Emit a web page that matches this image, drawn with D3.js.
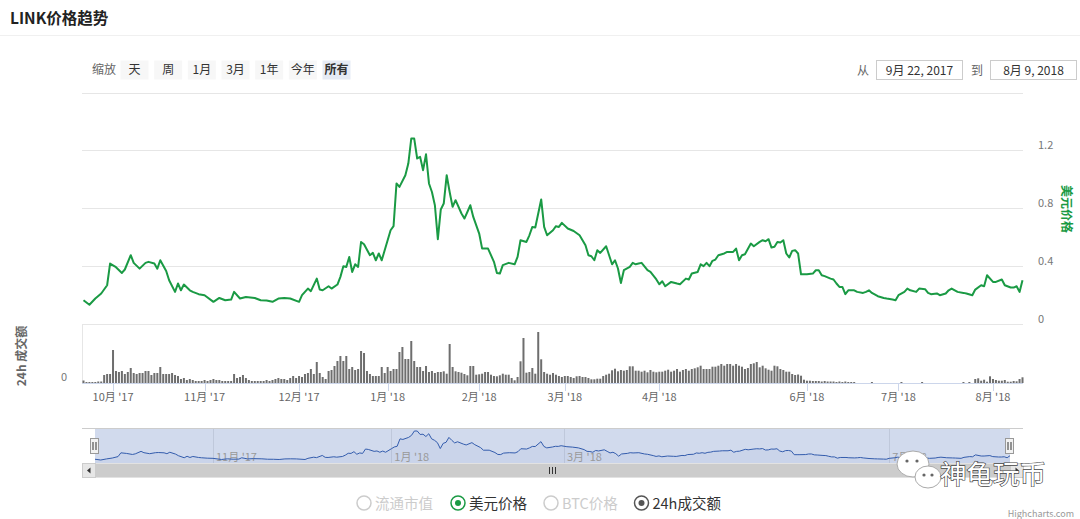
<!DOCTYPE html>
<html><head><meta charset="utf-8">
<script src="https://cdn.jsdelivr.net/npm/d3@7"></script>
<style>
html,body{margin:0;padding:0;background:#fff;}
svg{display:block;font-family:"Noto Sans CJK SC","Noto Sans",sans-serif;}
</style></head>
<body><svg id="c" width="1080" height="519"></svg>
<script>
// ---- data (ordinal day index from 9月 22, 2017 to 8月 9, 2018) ----
const priceDay = [0,2,4,6,8,9,11,13,14,16,17,19,21,22,24,25,26,28,29,31,32,33,34,36,37,39,41,44,46,48,50,51,53,55,58,60,62,64,66,68,70,73,74,76,77,79,80,81,83,84,86,87,88,89,90,91,92,93,94,95,97,98,99,100,101,103,104,105,106,107,109,110,111,112,113,114,115,116,117,118,119,120,121,122,123,124,125,126,128,129,131,132,134,135,137,139,140,141,142,144,146,147,148,150,151,152,153,155,156,157,159,160,161,162,164,166,168,170,171,172,173,174,175,177,178,179,180,181,182,183,185,186,187,188,189,191,192,194,195,196,197,199,201,202,204,205,206,208,209,210,211,212,213,214,215,217,218,220,221,222,223,224,226,227,229,230,231,232,233,234,235,236,237,238,239,240,241,242,243,244,245,247,248,249,250,251,253,254,255,256,257,258,259,261,262,264,265,266,267,269,271,272,274,275,276,278,279,280,282,283,285,286,287,289,290,292,293,294,296,298,299,301,302,304,305,306,308,309,311,312,314,315,316,317,318];
const priceUSD = [0.161,0.13,0.173,0.208,0.265,0.415,0.39,0.35,0.374,0.473,0.42,0.38,0.42,0.427,0.415,0.38,0.438,0.364,0.3,0.219,0.277,0.23,0.27,0.23,0.219,0.203,0.196,0.15,0.177,0.161,0.166,0.219,0.173,0.184,0.177,0.161,0.159,0.15,0.173,0.177,0.173,0.15,0.196,0.242,0.224,0.311,0.235,0.23,0.258,0.242,0.27,0.323,0.397,0.392,0.461,0.357,0.41,0.392,0.565,0.549,0.473,0.489,0.438,0.485,0.438,0.577,0.646,0.674,0.97,0.946,1.027,1.108,1.281,1.281,1.143,1.154,1.062,1.172,0.97,0.911,0.819,0.584,0.79,0.831,1.027,0.911,0.808,0.854,0.762,0.727,0.819,0.738,0.623,0.519,0.519,0.427,0.35,0.346,0.404,0.42,0.41,0.461,0.577,0.565,0.611,0.669,0.665,0.859,0.669,0.611,0.646,0.674,0.669,0.697,0.658,0.641,0.611,0.542,0.473,0.466,0.438,0.508,0.489,0.535,0.473,0.41,0.438,0.381,0.281,0.369,0.392,0.42,0.41,0.415,0.42,0.369,0.357,0.305,0.272,0.293,0.258,0.288,0.277,0.272,0.311,0.305,0.346,0.357,0.41,0.397,0.42,0.397,0.434,0.443,0.473,0.485,0.496,0.496,0.519,0.438,0.473,0.48,0.554,0.535,0.565,0.577,0.57,0.584,0.526,0.531,0.565,0.561,0.577,0.485,0.457,0.503,0.508,0.485,0.341,0.341,0.341,0.346,0.369,0.369,0.334,0.328,0.311,0.305,0.277,0.253,0.253,0.203,0.23,0.23,0.219,0.212,0.219,0.23,0.212,0.189,0.177,0.173,0.166,0.161,0.196,0.219,0.242,0.23,0.219,0.242,0.238,0.212,0.203,0.208,0.196,0.208,0.23,0.242,0.219,0.212,0.208,0.196,0.235,0.265,0.258,0.334,0.288,0.288,0.305,0.265,0.249,0.249,0.258,0.219,0.3];
const volume = [2.5,1,1,1,1,1.5,1.5,8,9,9,33,
12,11,12,9,11,15,10,9,10,10,12,12,8,10,10,16,9,9,9,10,8,7,4,5,3,
4,3,2,2,2,3,2,3,4,3,3,2,2,2,2,
9,5,6,8,5,
3,2,2,2,2,2,3,2,3,
4,5,4,4,3,5,7,5,7,6,
9,10,14,9,21,10,6,4,
12,13,17,22,27,22,27,14,16,13,14,32,30,12,9,7,7,7,16,10,16,12,14,
14,31,36,24,24,42,22,16,16,12,17,11,12,10,11,
11,11.7,9.3,39,16,11.7,11,10.3,9,7.7,17,17,8.3,8.7,9.3,11,11,8.3,7,6.7,7.7,9.3,8.3,8.3,5,2.7,6,21.7,45,10.3,11,15,9.3,51,23.7,11,9.3,8.3,10,8.3,7,6,7,7,6,5,6.7,7,6,6,5,3.7,3.7,4.3,4.3,7,8.3,9.3,12.7,14.3,11.7,
13,12.3,13,16.7,16.7,12.3,12.3,11.3,12.3,10.7,13,11.3,10.7,11.3,11.3,12.3,13.3,11.3,12.3,14,11.3,13,14,12.3,14,14.7,15.7,17.3,14,14,14,16.3,16.3,17.3,19,17.3,19,19,17.3,19,17.3,16.3,14,15,19,19.7,21,15.7,17.3,14.7,13.3,12.3,17.3,16.7,14,13,11.3,11.3,9,8,8.5,7.3,3.3,2.3,2.3,
2,2,2,1.5,2,1.5,1.5,1.5,1,1.5,1,1.5,1,1,1,
0,0,0,0,0,1,0,0,0,0,0,0,0,0,0,1,0,0,0,0,0,0,1,0,0,0,0,0,0,0,0,0,0,0,0,0,1,0,1,0,
4,4.7,2.3,3.3,1.3,6.7,4,3,2.3,2.3,3,1.3,1.3,2,1.7,4,5.7];
const tickDay = [10,41,73,103,134,163,195,245,276,308];
const tickLabels = ["10月 '17","11月 '17","12月 '17","1月 '18","2月 '18","3月 '18","4月 '18","6月 '18","7月 '18","8月 '18"];
const navTickDay = [41,103,163,276];
const navTickLabels = ["11月 '17","1月 '18","3月 '18","7月 '18"];
const priceTicks = [0,0.4,0.8,1.2];
const priceGrid = [0,0.4,0.8,1.2,1.6];
const zoomButtons = ["天","周","1月","3月","1年","今年","所有"];
const legendItems = [
  {name:"流通市值", on:false, color:"#ccc"},
  {name:"美元价格", on:true, color:"#1a9a44"},
  {name:"BTC价格", on:false, color:"#ccc"},
  {name:"24h成交额", on:true, color:"#555"}
];

// ---- drawing ----
const svg = d3.select("#c");
const GREEN = "#1a9a44";
const nDays = 319;
const x = d3.scaleLinear().domain([0, nDays-1]).range([83.5, 1022.5]);
const py = d3.scaleLinear().domain([0, 1.6]).range([323.5, 92.5]);
const vy = d3.scaleLinear().domain([0, 59]).range([383, 324]);
const L = 82, R = 1023;

// header
svg.append("text").attr("x",10).attr("y",24).attr("font-size",15.5).attr("font-weight","bold").attr("fill","#222").text("LINK价格趋势");
svg.append("line").attr("x1",0).attr("x2",1080).attr("y1",35.5).attr("y2",35.5).attr("stroke","#f0f0f0");

// range selector
svg.append("text").attr("x",92).attr("y",74).attr("font-size",12).attr("fill","#666").text("缩放");
const bx = d3.scaleLinear().domain([0,6]).range([120.5,322.5]);
zoomButtons.forEach((b,i)=>{
  const sel = i===zoomButtons.length-1;
  svg.append("rect").attr("x",bx(i)).attr("y",60.5).attr("width",28).attr("height",19).attr("fill",sel?"#e6ebf5":"#f7f7f7");
  svg.append("text").attr("x",bx(i)+14).attr("y",74).attr("text-anchor","middle").attr("font-size",12)
    .attr("font-weight",sel?"bold":"normal").attr("fill","#333").text(b);
});
svg.append("text").attr("x",857).attr("y",74.5).attr("font-size",12).attr("fill","#666").text("从");
svg.append("rect").attr("x",876.5).attr("y",60.5).attr("width",86).attr("height",19).attr("fill","#fff").attr("stroke","#ccc");
svg.append("text").attr("x",919.5).attr("y",74.5).attr("text-anchor","middle").attr("font-size",12).attr("fill","#333").text("9月 22, 2017");
svg.append("text").attr("x",971).attr("y",74.5).attr("font-size",12).attr("fill","#666").text("到");
svg.append("rect").attr("x",990.5).attr("y",60.5).attr("width",86).attr("height",19).attr("fill","#fff").attr("stroke","#ccc");
svg.append("text").attr("x",1033.5).attr("y",74.5).attr("text-anchor","middle").attr("font-size",12).attr("fill","#333").text("8月 9, 2018");

// price grid
svg.append("g").selectAll("line").data(priceGrid).join("line")
  .attr("x1",L).attr("x2",R).attr("y1",d=>Math.round(py(d))+0.5).attr("y2",d=>Math.round(py(d))+0.5)
  .attr("stroke","#e6e6e6");
svg.append("g").selectAll("text").data(priceTicks).join("text")
  .attr("x",1038).attr("y",d=>py(d)-1).attr("font-size",11).attr("fill","#777").text(d=>d3.format("~g")(d));
svg.append("text").attr("transform","translate(1062,209) rotate(90)").attr("text-anchor","middle")
  .attr("font-size",12).attr("font-weight","bold").attr("fill",GREEN).text("美元价格");

// volume panel
svg.append("line").attr("x1",L+0.5).attr("x2",L+0.5).attr("y1",324).attr("y2",383).attr("stroke","#e6e6e6");
svg.append("g").selectAll("rect").data(volume.map((v,i)=>({v,i})).filter(d=>d.v>0)).join("rect")
  .attr("x",d=>x(d.i)-1).attr("width",2).attr("y",d=>vy(d.v)).attr("height",d=>vy(0)-vy(d.v)).attr("fill","#6e6e6e");
svg.append("text").attr("x",67).attr("y",381).attr("text-anchor","end").attr("font-size",11).attr("fill","#777").text("0");
svg.append("text").attr("transform","translate(26,356) rotate(-90)").attr("text-anchor","middle")
  .attr("font-size",12).attr("font-weight","bold").attr("fill","#666").text("24h 成交额");

// x axis
svg.append("line").attr("x1",L).attr("x2",R).attr("y1",383.5).attr("y2",383.5).attr("stroke","#ccd6eb");
svg.append("g").selectAll("line").data(tickDay).join("line")
  .attr("x1",d=>Math.round(x(d))+0.5).attr("x2",d=>Math.round(x(d))+0.5).attr("y1",383.5).attr("y2",391).attr("stroke","#ccd6eb");
svg.append("g").selectAll("text").data(tickDay).join("text")
  .attr("x",d=>x(d)).attr("y",401).attr("text-anchor","middle").attr("font-size",11).attr("fill","#666")
  .text((d,i)=>tickLabels[i]);

// price line
const line = d3.line().x((d,i)=>x(priceDay[i])).y(d=>py(d)).curve(d3.curveLinear);
svg.append("path").attr("d",line(priceUSD)).attr("fill","none").attr("stroke",GREEN).attr("stroke-width",2).attr("stroke-linejoin","round");

// navigator
const nx = d3.scaleLinear().domain([0,nDays-1]).range([95,1010]);
const ny = d3.scaleLinear().domain(d3.extent(priceUSD)).range([460,431]);
svg.append("g").selectAll("line").data(navTickDay).join("line")
  .attr("x1",d=>Math.round(nx(d))+0.5).attr("x2",d=>Math.round(nx(d))+0.5).attr("y1",428).attr("y2",463).attr("stroke","#e6e6e6");
const narea = d3.area().x((d,i)=>nx(priceDay[i])).y0(463).y1(d=>ny(d));
svg.append("path").attr("d",narea(priceUSD)).attr("fill","rgba(51,92,173,0.05)");
svg.append("rect").attr("x",95).attr("y",428.5).attr("width",915).attr("height",34.5).attr("fill","rgba(102,133,194,0.3)");
svg.append("g").selectAll("text").data(navTickDay).join("text")
  .attr("x",d=>nx(d)+3).attr("y",461).attr("font-size",11).attr("fill","#999").text((d,i)=>navTickLabels[i]);
const nline = d3.line().x((d,i)=>nx(priceDay[i])).y(d=>ny(d));
svg.append("path").attr("d",nline(priceUSD)).attr("fill","none").attr("stroke","#335cad").attr("stroke-width",1);
svg.append("line").attr("x1",L).attr("x2",R).attr("y1",428.5).attr("y2",428.5).attr("stroke","#cccccc");
[95,1010].forEach(hx=>{
  svg.append("rect").attr("x",hx-4.5).attr("y",438.5).attr("width",8).attr("height",15).attr("fill","#f2f2f2").attr("stroke","#999");
  [-1.5,1.5].forEach(o=>svg.append("line").attr("x1",hx+o-0.5).attr("x2",hx+o-0.5).attr("y1",442).attr("y2",450).attr("stroke","#333"));
});
// scrollbar
svg.append("rect").attr("x",L).attr("y",463.5).attr("width",R-L).attr("height",14).attr("fill","#f2f2f2");
svg.append("rect").attr("x",95).attr("y",463.5).attr("width",915).attr("height",14).attr("fill","#cccccc");
[[L,"l"],[R-13,"r"]].forEach(([bx0,dir])=>{
  svg.append("rect").attr("x",bx0+0.5).attr("y",463.5).attr("width",13).attr("height",14).attr("fill","#e6e6e6").attr("stroke","#cccccc");
  const cx=bx0+7, cy=470.5;
  svg.append("path").attr("d",dir==="l"?`M${cx+1.5},${cy-3}L${cx-2},${cy}L${cx+1.5},${cy+3}Z`:`M${cx-1.5},${cy-3}L${cx+2},${cy}L${cx-1.5},${cy+3}Z`).attr("fill","#333");
});
[-3,0,3].forEach(o=>svg.append("line").attr("x1",552.5+o).attr("x2",552.5+o).attr("y1",467).attr("y2",474).attr("stroke","#333"));

// watermark
const wm = svg.append("g");
wm.append("ellipse").attr("cx",913).attr("cy",464).attr("rx",16).attr("ry",13).attr("fill","#fff").attr("stroke","#aaa");
wm.append("ellipse").attr("cx",928).attr("cy",477).attr("rx",13).attr("ry",11).attr("fill","#fff").attr("stroke","#aaa");
[[907,461],[917,461],[924,475],[932,475]].forEach(([a,b])=>wm.append("circle").attr("cx",a).attr("cy",b).attr("r",1.6).attr("fill","#666"));
wm.append("text").attr("x",940).attr("y",484).attr("font-size",26.5).attr("fill","#fff").attr("stroke","#444").attr("stroke-width",1.3)
  .attr("paint-order","stroke").text("神龟玩币");

// legend
const lx = [364, 458, 551, 641.5];
legendItems.forEach((it,i)=>{
  const g = svg.append("g");
  g.append("circle").attr("cx",lx[i]).attr("cy",503).attr("r",7).attr("fill","#fff").attr("stroke",it.color).attr("stroke-width",1.5);
  if(it.on) g.append("circle").attr("cx",lx[i]).attr("cy",503).attr("r",3).attr("fill",it.color);
  g.append("text").attr("x",lx[i]+11).attr("y",508.5).attr("font-size",14.5).attr("fill",it.on?"#333":"#ccc").text(it.name);
});
svg.append("text").attr("x",1074).attr("y",517).attr("text-anchor","end").attr("font-size",9).attr("fill","#999").text("Highcharts.com");
</script></body></html>
